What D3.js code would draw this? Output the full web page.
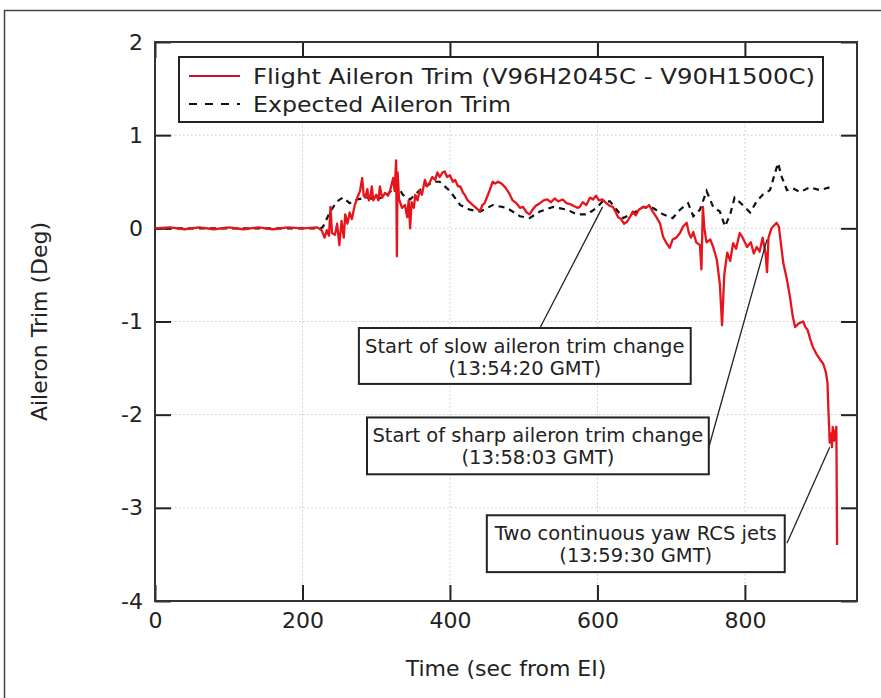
<!DOCTYPE html>
<html lang="en">
<head>
    <meta charset="UTF-8">
    <title>Aileron Trim</title>
    <script src="https://cdn.jsdelivr.net/npm/d3@7"></script>
    <style>
        body, html { margin: 0; padding: 0; background: #fff; overflow: hidden; }
        svg { display: block; }
        text { font-family: "DejaVu Sans", sans-serif; fill: #222; }
    </style>
</head>
<body>
    <svg id="mainsvg"></svg>
    <script>
        // data: [time (sec from EI), trim (deg)]
        const flightTrim = [
            [0,0],[20,0.01],[40,-0.01],[60,0.01],[80,-0.01],[100,0.01],[120,-0.01],[140,0.01],[160,-0.01],[180,0.01],
            [200,0],[220,0.01],[226,-0.02],[230,-0.1],[233,-0.02],[236,-0.08],[238,0.23],[240,-0.05],[244,-0.07],[247,0.05],
            [250,-0.18],[253,0.08],[256,-0.1],[258,0.15],[261,0.05],[264,0.17],[267,0.1],[271,0.25],[274,0.32],[278,0.4],
            [281,0.54],[283,0.35],[285,0.33],[288,0.42],[290,0.3],[292,0.33],[294,0.45],[296,0.3],[300,0.36],[303,0.3],
            [305,0.45],[308,0.33],[312,0.38],[316,0.35],[319,0.41],[323,0.54],[325,0.4],[327,0.73],[328,-0.3],[329,0.6],
            [331,0.31],[335,0.22],[339,0.25],[342,0.12],[344,0.3],[346,0.0],[348,0.28],[351,0.22],[353,0.36],[356,0.3],
            [359,0.41],[362,0.36],[366,0.52],[369,0.45],[373,0.5],[376,0.55],[380,0.52],[383,0.6],[386,0.55],[390,0.6],
            [393,0.61],[396,0.55],[400,0.57],[404,0.5],[407,0.52],[411,0.45],[414,0.45],[418,0.38],[420,0.36],[424,0.3],
            [427,0.28],[431,0.25],[434,0.23],[438,0.2],[441,0.19],[444,0.25],[447,0.27],[451,0.35],[454,0.41],[458,0.5],
            [461,0.48],[465,0.5],[470,0.48],[475,0.44],[480,0.38],[485,0.3],[490,0.27],[495,0.22],[499,0.23],[504,0.17],
            [508,0.15],[512,0.2],[516,0.24],[522,0.27],[527,0.3],[532,0.31],[537,0.28],[542,0.32],[547,0.29],[553,0.31],
            [558,0.27],[563,0.26],[568,0.24],[573,0.22],[576,0.23],[580,0.28],[585,0.25],[590,0.33],[594,0.31],[598,0.35],
            [602,0.3],[607,0.31],[612,0.27],[617,0.24],[621,0.23],[625,0.17],[628,0.12],[632,0.1],[636,0.05],[640,0.07],
            [644,0.12],[648,0.18],[652,0.14],[656,0.2],[662,0.23],[666,0.22],[670,0.25],[675,0.18],[680,0.12],[685,0.05],
            [689,-0.09],[693,-0.15],[698,-0.21],[702,-0.12],[707,-0.1],[712,-0.05],[716,0.02],[721,0.06],[724,-0.05],[727,-0.1],
            [730,-0.04],[734,-0.15],[739,-0.18],[741,-0.44],[743,0.23],[745,0.0],[748,-0.15],[753,-0.12],[757,-0.2],[762,-0.34],
            [766,-0.6],[769,-1.04],[772,-0.5],[776,-0.26],[780,-0.35],[784,-0.16],[788,-0.22],[793,-0.05],[797,-0.1],[803,-0.2],
            [808,-0.15],[812,-0.27],[816,-0.2],[820,-0.25],[824,-0.1],[828,-0.27],[830,-0.47],[832,-0.1],[836,0.0],[843,0.06],
            [846,0.02],[852,-0.37],[857,-0.55],[861,-0.73],[865,-0.95],[868,-1.06],[873,-1.02],[879,-1.0],[882,-1.06],[885,-1.09],
            [889,-1.2],[892,-1.27],[897,-1.35],[902,-1.41],[906,-1.45],[910,-1.55],[912,-1.66],[913,-1.9],[914,-2.1],[915,-2.3],
            [917,-2.2],[918,-2.35],[919,-2.13],[921,-2.28],[922,-2.2],[924,-2.13],[925,-3.4]
        ];

        const expectedTrim = [
            [0,0],[225,0],[228,0.02],[237,0.17],[247,0.29],[255,0.33],[264,0.27],[274,0.31],[287,0.33],[301,0.31],
            [315,0.36],[328,0.47],[336,0.36],[346,0.31],[359,0.41],[377,0.5],[386,0.5],[400,0.4],[414,0.25],[427,0.2],
            [441,0.18],[458,0.25],[477,0.22],[495,0.13],[508,0.11],[522,0.18],[540,0.23],[559,0.2],[572,0.15],[586,0.15],
            [599,0.22],[607,0.29],[617,0.29],[626,0.2],[635,0.11],[648,0.16],[662,0.23],[675,0.22],[689,0.15],[702,0.11],
            [712,0.2],[723,0.27],[730,0.13],[739,0.2],[748,0.4],[757,0.23],[766,0.18],[773,0.02],[780,0.15],[786,0.33],
            [797,0.25],[807,0.17],[816,0.29],[824,0.36],[834,0.41],[841,0.6],[845,0.7],[850,0.55],[857,0.41],[865,0.43],
            [875,0.39],[888,0.44],[902,0.41],[919,0.45]
        ];

        const xTicks = [0, 200, 400, 600, 800];
        const yTicks = [-4, -3, -2, -1, 0, 1, 2];

        const legendLabels = ['Flight Aileron Trim (V96H2045C - V90H1500C)', 'Expected Aileron Trim'];

        // annotation boxes: text, box corners and leader line in data units
        const notes = [
            { lines: ['Start of slow aileron trim change', '(13:54:20 GMT)'],
              box: [276.5, -1.07, 726.5, -1.67], from: [607, 0.23], to: [522, -1.07] },
            { lines: ['Start of sharp aileron trim change', '(13:58:03 GMT)'],
              box: [287.5, -2.03, 751, -2.64], from: [830, -0.12], to: [751, -2.35] },
            { lines: ['Two continuous yaw RCS jets', '(13:59:30 GMT)'],
              box: [450, -3.08, 854, -3.69], from: [915, -2.35], to: [857, -3.38] }
        ];

        const width = 881, height = 698;
        const svg = d3.select('svg').attr('width', width).attr('height', height);

        // outer figure frame (bottom and right run off the page)
        svg.append('path')
            .attr('d', `M4.5,${height} V10.5 H${width}`)
            .attr('fill', 'none').attr('stroke', '#444').attr('stroke-width', 1.5);

        const margin = { top: 42, right: 24, bottom: 97, left: 155 };
        const innerWidth = width - margin.left - margin.right;
        const innerHeight = height - margin.top - margin.bottom;

        const g = svg.append('g')
            .attr('transform', `translate(${margin.left}, ${margin.top})`);

        const xScale = d3.scaleLinear().domain([0, 952]).range([0, innerWidth]);
        const yScale = d3.scaleLinear().domain([-4, 2]).range([innerHeight, 0]);

        // dotted grid
        g.append('g').selectAll('line')
            .data(yTicks.filter(d => d > -4 && d < 2))
            .join('line')
            .attr('x1', 0).attr('x2', innerWidth)
            .attr('y1', d => yScale(d)).attr('y2', d => yScale(d))
            .attr('stroke', '#c8c8c8').attr('stroke-width', 1).attr('stroke-dasharray', '1.5,2.5');
        g.append('g').selectAll('line')
            .data(xTicks.filter(d => d > 0))
            .join('line')
            .attr('x1', d => xScale(d)).attr('x2', d => xScale(d))
            .attr('y1', 0).attr('y2', innerHeight)
            .attr('stroke', '#c8c8c8').attr('stroke-width', 1).attr('stroke-dasharray', '1.5,2.5');

        // axes with inward ticks on all four sides
        const tickLen = 16;
        const styleAxis = sel => {
            sel.select('.domain').remove();
            sel.selectAll('.tick line').attr('stroke', '#222').attr('stroke-width', 2);
            sel.selectAll('.tick text').attr('font-size', '22px').attr('fill', '#222')
                .attr('font-family', '"DejaVu Sans", sans-serif');
        };
        g.append('g').attr('transform', `translate(0, ${innerHeight})`)
            .call(d3.axisBottom(xScale).tickValues(xTicks).tickSizeInner(-tickLen).tickSizeOuter(0).tickPadding(11))
            .call(styleAxis);
        g.append('g')
            .call(d3.axisTop(xScale).tickValues(xTicks).tickSizeInner(-tickLen).tickSizeOuter(0).tickFormat(''))
            .call(styleAxis);
        g.append('g')
            .call(d3.axisLeft(yScale).tickValues(yTicks).tickSizeInner(-tickLen).tickSizeOuter(0).tickPadding(12)
                .tickFormat(d => d < 0 ? '-' + Math.abs(d) : d))
            .call(styleAxis);
        g.append('g').attr('transform', `translate(${innerWidth}, 0)`)
            .call(d3.axisRight(yScale).tickValues(yTicks).tickSizeInner(-tickLen).tickSizeOuter(0).tickFormat(''))
            .call(styleAxis);

        // plot frame
        g.append('rect')
            .attr('width', innerWidth).attr('height', innerHeight)
            .attr('fill', 'none').attr('stroke', '#333').attr('stroke-width', 2);

        const line = d3.line().x(d => xScale(d[0])).y(d => yScale(d[1]));

        g.append('path').datum(expectedTrim)
            .attr('d', line)
            .attr('fill', 'none').attr('stroke', '#111').attr('stroke-width', 2.2)
            .attr('stroke-dasharray', '6,5');

        g.append('path').datum(flightTrim)
            .attr('d', line)
            .attr('fill', 'none').attr('stroke', '#e8141c').attr('stroke-width', 2.3)
            .attr('stroke-linejoin', 'round');

        // annotations
        notes.forEach(n => {
            g.append('line')
                .attr('x1', xScale(n.from[0])).attr('y1', yScale(n.from[1]))
                .attr('x2', xScale(n.to[0])).attr('y2', yScale(n.to[1]))
                .attr('stroke', '#222').attr('stroke-width', 1.3);
            const x0 = xScale(n.box[0]), y0 = yScale(n.box[1]);
            const x1 = xScale(n.box[2]), y1 = yScale(n.box[3]);
            g.append('rect')
                .attr('x', x0).attr('y', y0).attr('width', x1 - x0).attr('height', y1 - y0)
                .attr('fill', '#fff').attr('stroke', '#222').attr('stroke-width', 2);
            n.lines.forEach((t, i) => {
                g.append('text')
                    .attr('x', (x0 + x1) / 2)
                    .attr('y', y0 + 25 + i * 22)
                    .attr('text-anchor', 'middle')
                    .attr('font-size', '19.5px')
                    .text(t);
            });
        });

        // legend
        const legendWidths = [562, 258];
        const legend = g.append('g');
        legend.append('rect')
            .attr('x', 24).attr('y', 15).attr('width', 644).attr('height', 65)
            .attr('fill', '#fff').attr('stroke', '#222').attr('stroke-width', 2);
        legendLabels.forEach((label, i) => {
            const yy = 34 + i * 28;
            legend.append('line')
                .attr('x1', 34).attr('x2', 85).attr('y1', yy).attr('y2', yy)
                .attr('stroke', i === 0 ? '#c8102e' : '#111').attr('stroke-width', 2)
                .attr('stroke-dasharray', i === 0 ? null : '8,8');
            legend.append('text')
                .attr('x', 98).attr('y', yy + 8)
                .attr('font-size', '22px')
                .attr('textLength', legendWidths[i])
                .attr('lengthAdjust', 'spacingAndGlyphs')
                .text(label);
        });

        // axis titles
        svg.append('text')
            .attr('x', margin.left + innerWidth / 2).attr('y', 676)
            .attr('text-anchor', 'middle').attr('font-size', '22px')
            .text('Time (sec from EI)');
        svg.append('text')
            .attr('transform', `translate(47, ${margin.top + innerHeight / 2}) rotate(-90)`)
            .attr('text-anchor', 'middle').attr('font-size', '22px')
            .text('Aileron Trim (Deg)');
    </script>
</body>
</html>
